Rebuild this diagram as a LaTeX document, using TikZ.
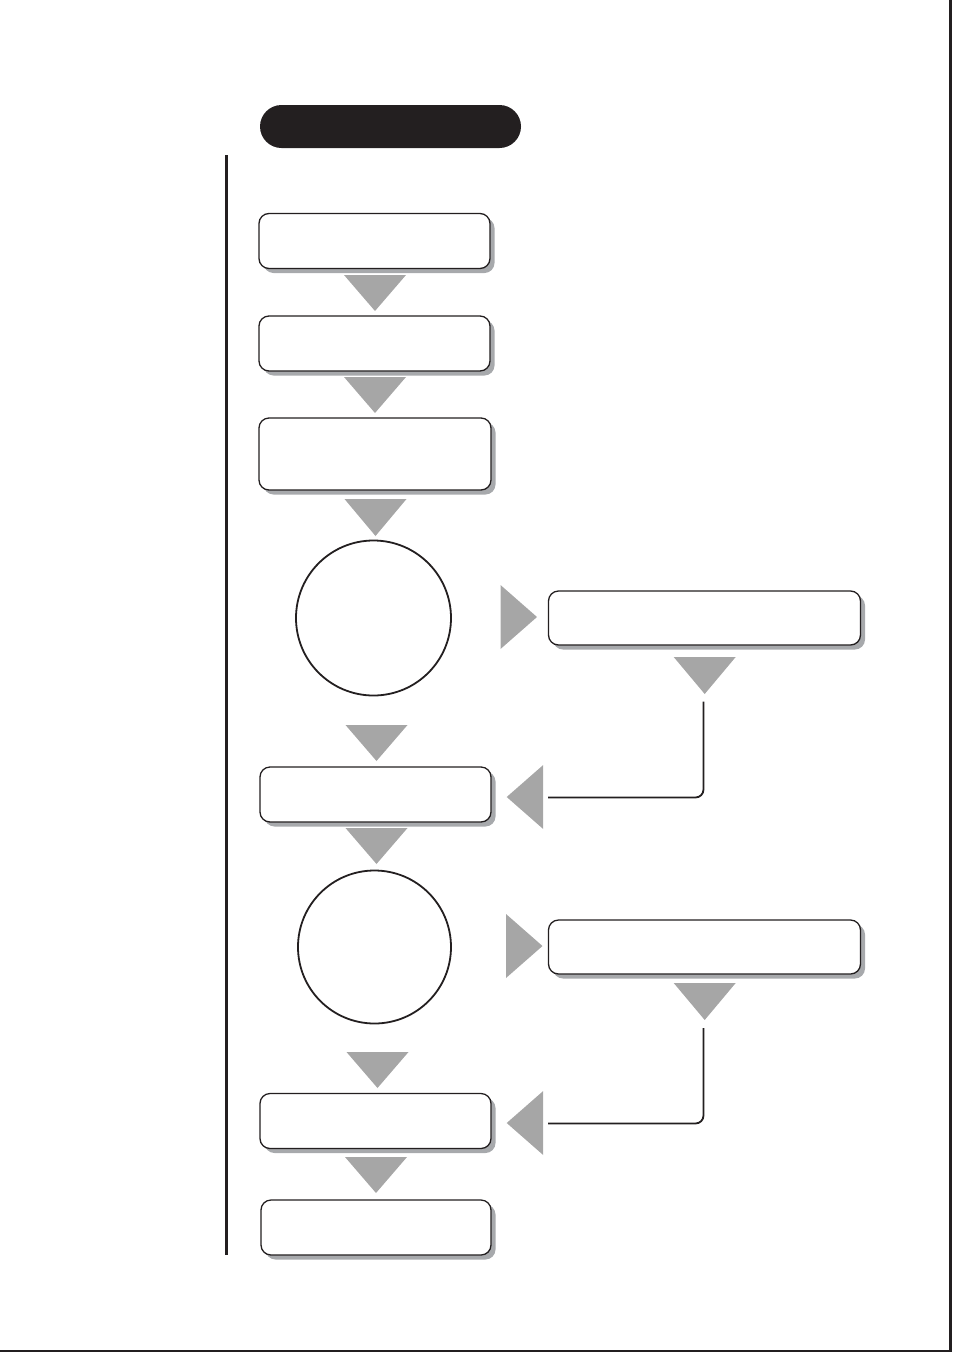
\documentclass[tikz,border=0pt]{standalone}
\usetikzlibrary{shadows}
\definecolor{ink}{HTML}{231F20}
\definecolor{trigray}{HTML}{A6A6A6}
\definecolor{shadowgray}{HTML}{A7A9AC}
\tikzset{
  stepbox/.style={draw=ink, line width=1.3pt, fill=white, rectangle, rounded corners=10pt,
    inner sep=0pt, minimum width=231pt, minimum height=55pt,
    drop shadow={shadow xshift=4.5pt, shadow yshift=-4.5pt, fill=shadowgray, opacity=1}},
  sidebox/.style={stepbox, minimum width=312pt, minimum height=54pt},
  decision/.style={draw=ink, line width=1.8pt, circle, inner sep=0pt, fill=white},
  titlebar/.style={fill=ink, rectangle, rounded corners=21.5pt, inner sep=0pt,
    minimum width=261pt, minimum height=43pt},
  tri/.style={fill=trigray},
  link/.style={draw=ink, line width=1.8pt, rounded corners=8pt},
  frameline/.style={draw=ink, line width=2.5pt}
}
\newcommand{\dtri}[3]{\fill[tri] (#1-31,#2) -- (#1+31,#2) -- (#1,#2+#3) -- cycle;}
\newcommand{\rtri}[3]{\fill[tri] (#1,#2-32) -- (#1,#2+32) -- (#1+#3,#2) -- cycle;}
\newcommand{\ltri}[3]{\fill[tri] (#1,#2) -- (#1+#3,#2-32) -- (#1+#3,#2+32) -- cycle;}
\begin{document}
\begin{tikzpicture}[x=1pt,y=-1pt]
\useasboundingbox (0,0) rectangle (954,1355);
% frame
\draw[frameline] (950.7,0) -- (950.7,1351.2) -- (0,1351.2);
\draw[frameline] (226.6,155) -- (226.6,1255);
% title bar
\node[titlebar] (title) at (390.5,126.5) {};
% main column
\node[stepbox] (b1) at (374.5,241) {};
\node[stepbox] (b2) at (374.5,343.5) {};
\node[stepbox, minimum width=232pt, minimum height=72pt] (b3) at (375,454) {};
\node[decision, minimum size=155pt] (c1) at (373.5,618) {};
\node[stepbox] (b4) at (375.5,794.5) {};
\node[decision, minimum size=153pt] (c2) at (374.5,947) {};
\node[stepbox] (b5) at (375.5,1121) {};
\node[stepbox, minimum width=230pt] (b6) at (376,1227.5) {};
% side boxes
\node[sidebox] (s1) at (704.5,618) {};
\node[sidebox] (s2) at (704.5,947) {};
% down triangles, main column
\dtri{375}{275}{36}
\dtri{375}{377}{36}
\dtri{375.5}{499}{37}
\dtri{376.5}{725}{36}
\dtri{376.5}{828}{36}
\dtri{377.5}{1052}{36}
\dtri{376}{1157}{36}
% right triangles towards side boxes
\rtri{500.5}{617}{36.5}
\rtri{506}{946}{36.5}
% down triangles below side boxes
\dtri{704.7}{657}{37}
\dtri{704.7}{983}{37}
% left triangles towards main boxes
\ltri{506.7}{797}{36.5}
\ltri{506.7}{1123}{36.5}
% connectors
\coordinate (k1a) at (703.5,701.5);
\coordinate (k1b) at (548,797.5);
\coordinate (k2a) at (703.5,1028);
\coordinate (k2b) at (548,1123.5);
\draw[link] (k1a) |- (k1b);
\draw[link] (k2a) |- (k2b);
\end{tikzpicture}
\end{document}
